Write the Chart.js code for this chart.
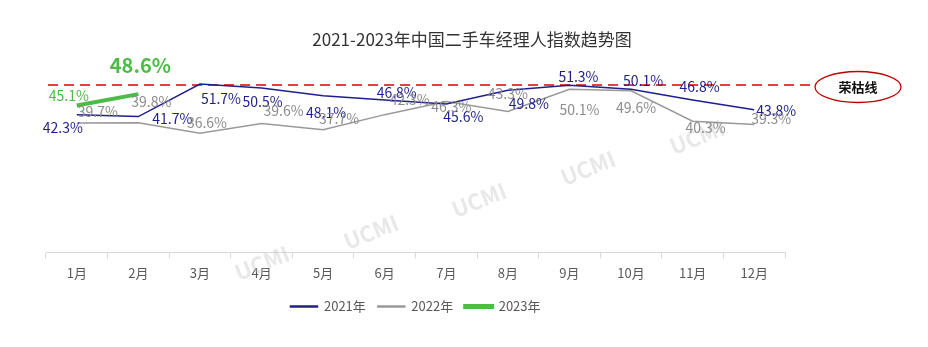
<!DOCTYPE html>
<html lang="zh">
  <head>
    <meta charset="utf-8" />
    <title>二手车经理人指数</title>
    <script src="https://cdn.jsdelivr.net/npm/chart.js@4.4.1/dist/chart.umd.min.js"></script>
    <style>
      html, body { margin: 0; padding: 0; background: #fff; }
      #wrap { width: 928px; height: 347px; }
    </style>
  </head>
  <body>
    <div id="wrap"><canvas id="ucmi"></canvas></div>

    <script>
      // data
      var months = ["1月", "2月", "3月", "4月", "5月", "6月", "7月", "8月", "9月", "10月", "11月", "12月"];
      var idx2021 = [42.3, 41.7, 51.7, 50.5, 48.1, 46.8, 45.6, 49.8, 51.3, 50.1, 46.8, 43.8];
      var idx2022 = [39.7, 39.8, 36.6, 39.6, 37.7, 42.3, 46.3, 43.3, 50.1, 49.6, 40.3, 39.3];
      var idx2023 = [45.1, 48.6];
      var boomLine = 51.4;

      var FONT = '"Noto Sans CJK SC", "Noto Sans", sans-serif';

      // where each value label sits relative to its point (dx, dy)
      var off2021 = [[-14, 13], [34, 2], [21, 15], [1, 14], [3, 17], [12, -7], [17, 13], [21, 13], [9, -9], [12, -9], [7, -13], [22, 1]];
      var off2022 = [[21, -11], [13, -21], [7, -11], [22, -13], [16, -11], [25, -15], [5, 5], [0, -18], [10, 20], [5, 17], [13, 7], [17, -6]];
      var off2023 = [[-8, -10], [2, -29]];

      var labelStyle = [
        { off: off2021, color: "#1f1f8c", font: "14px " + FONT },
        { off: off2022, color: "#8c8c8c", font: "14px " + FONT },
        { off: off2023, color: "#4cbb47", font: null }
      ];

      var decorPlugin = {
        id: "decor",
        beforeDatasetsDraw: function (chart) {
          var ctx = chart.ctx;
          // watermark
          ctx.save();
          ctx.fillStyle = "rgba(190,190,190,0.35)";
          ctx.font = "bold 22px " + FONT;
          ctx.textAlign = "center";
          ctx.textBaseline = "middle";
          [[262, 263], [371, 232], [479, 200], [588, 168], [697, 137]].forEach(function (p) {
            ctx.save();
            ctx.translate(p[0], p[1]);
            ctx.rotate(-0.38);
            ctx.fillText("UCMI", 0, 0);
            ctx.restore();
          });
          ctx.restore();

          // boom-bust line
          var y = chart.scales.y.getPixelForValue(boomLine);
          ctx.save();
          ctx.strokeStyle = "#e00000";
          ctx.lineWidth = 1.5;
          ctx.setLineDash([10, 6]);
          ctx.beginPath();
          ctx.moveTo(chart.chartArea.left + 2, y);
          ctx.lineTo(815, y);
          ctx.stroke();
          ctx.setLineDash([]);
          ctx.lineWidth = 1.3;
          ctx.strokeStyle = "#c00000";
          ctx.beginPath();
          ctx.ellipse(858, y + 2, 43, 15.5, 0, 0, Math.PI * 2);
          ctx.stroke();
          ctx.fillStyle = "#111";
          ctx.font = "bold 13px " + FONT;
          ctx.textAlign = "center";
          ctx.textBaseline = "middle";
          ctx.fillText("荣枯线", 858, y + 2);
          ctx.restore();
        },
        afterDatasetsDraw: function (chart) {
          var ctx = chart.ctx;
          ctx.save();
          ctx.textAlign = "center";
          ctx.textBaseline = "middle";
          chart.data.datasets.forEach(function (ds, di) {
            var st = labelStyle[di];
            chart.getDatasetMeta(di).data.forEach(function (pt, i) {
              var o = st.off[i];
              ctx.fillStyle = st.color;
              ctx.font = st.font || (i === 1 ? "bold 20px " + FONT : "14px " + FONT);
              ctx.fillText(ds.data[i].toFixed(1) + "%", pt.x + o[0], pt.y + o[1]);
            });
          });
          // title
          ctx.fillStyle = "#333";
          ctx.font = "17px " + FONT;
          ctx.fillText("2021-2023年中国二手车经理人指数趋势图", 472, 40);
          ctx.restore();
        }
      };

      var ctx = document.getElementById("ucmi").getContext("2d");
      var chart = new Chart(ctx, {
        type: "line",
        data: {
          labels: months,
          datasets: [
            { label: "2021年", data: idx2021, borderColor: "#1f1f8c", backgroundColor: "#1f1f8c", borderWidth: 1.5, pointRadius: 0, tension: 0 },
            { label: "2022年", data: idx2022, borderColor: "#999999", backgroundColor: "#999999", borderWidth: 1.5, pointRadius: 0, tension: 0 },
            { label: "2023年", data: idx2023, borderColor: "#4cbb47", backgroundColor: "#4cbb47", borderWidth: 4, pointRadius: 0, tension: 0 }
          ]
        },
        options: {
          responsive: true,
          maintainAspectRatio: false,
          animation: false,
          layout: { padding: { left: 46, right: 143, top: 57, bottom: 24 } },
          plugins: {
            title: { display: false },
            tooltip: { enabled: false },
            legend: {
              display: true,
              position: "bottom",
              labels: {
                boxWidth: 27,
                boxHeight: 1,
                padding: 12,
                color: "#595959",
                font: { family: FONT, size: 13 }
              }
            }
          },
          scales: {
            x: {
              offset: true,
              border: { color: "#d9d9d9", width: 1 },
              grid: { offset: true, drawOnChartArea: false, drawTicks: true, tickLength: 6, color: "#d9d9d9" },
              ticks: { color: "#595959", padding: 7, font: { family: FONT, size: 13 } }
            },
            y: { display: false, min: 0, max: 60 }
          }
        },
        plugins: [decorPlugin]
      });
    </script>
  </body>
</html>
